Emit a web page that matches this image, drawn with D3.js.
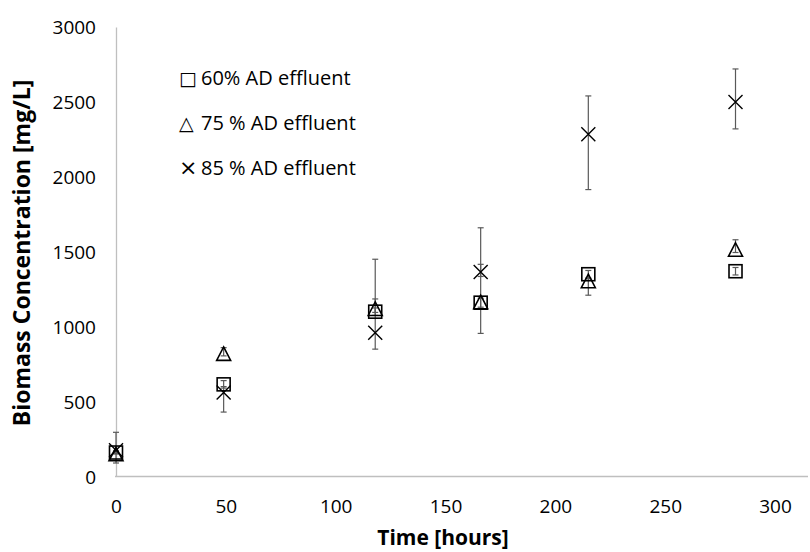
<!DOCTYPE html>
<html>
<head>
<meta charset="utf-8">
<script src="https://cdn.jsdelivr.net/npm/d3@7"></script>
<style>
  body { margin: 0; background: #fff; }
  text { font-family: "Open Sans", "DejaVu Sans", sans-serif; }
</style>
</head>
<body>
<script>
// sampling times [hours]
const times = [0, 49, 118, 166, 215, 282];

// 60% AD effluent
const sq = [160, 615, 1100, 1160, 1350, 1370];
const sqPlus = [10, 25, 25, 256, 25, 25];
const sqMinus = [10, 25, 25, 205, 25, 25];

// 75 % AD effluent
const tri = [145, 815, 1115, 1160, 1300, 1510];
const triPlus = [10, 45, 70, 30, 20, 70];
const triMinus = [55, 10, 20, 30, 90, 15];

// 85 % AD effluent
const crs = [175, 560, 960, 1365, 2285, 2500];
const crsPlus = [120, 40, 490, 295, 255, 220];
const crsMinus = [20, 130, 110, 30, 370, 180];

const xTicks = [0, 50, 100, 150, 200, 250, 300];
const yTicks = [0, 500, 1000, 1500, 2000, 2500, 3000];
const legendSymbols = ["\u25A1", "\u25B3", "\u00D7"];
const legendLabels = ["60% AD effluent", "75 % AD effluent", "85 % AD effluent"];

var w = 810, h = 552;
const svg = d3.select("body").append("svg")
  .attr("width", w).attr("height", h);

const xScale = d3.scaleLinear().domain([0, 315]).range([116, 808]);
const yScale = d3.scaleLinear().domain([0, 3000]).range([476.5, 27]);

// axes
var xAxis = svg.append("g")
  .attr("transform", "translate(0," + yScale(0) + ")")
  .call(d3.axisBottom(xScale).tickValues(xTicks).tickSize(0).tickPadding(23));
var yAxis = svg.append("g")
  .attr("transform", "translate(" + xScale(0) + ",0)")
  .call(d3.axisLeft(yScale).tickValues(yTicks).tickFormat(d3.format("d")).tickSize(0).tickPadding(20));

[xAxis, yAxis].forEach(function(a) {
  a.select(".domain").attr("stroke", "#bfbfbf").attr("stroke-width", 1.3);
  a.selectAll("text").attr("fill", "#000").style("font-size", "19px");
});
yAxis.selectAll("text").attr("dy", "0.35em");
xAxis.select(".domain").attr("d", "M" + (xScale(0) - 1) + ",0H808");

// titles
svg.append("text")
  .attr("x", 443).attr("y", 545)
  .attr("text-anchor", "middle")
  .style("font-size", "21px").style("font-weight", "bold")
  .text("Time [hours]");
svg.append("text")
  .attr("transform", "translate(30,253) rotate(-90)")
  .attr("text-anchor", "middle")
  .style("font-size", "23px").style("font-weight", "bold")
  .text("Biomass Concentration [mg/L]");

// error bars
function errorBars(vals, plus, minus) {
  const g = svg.append("g").attr("stroke", "#595959").attr("stroke-width", 1.2).attr("fill", "none");
  vals.forEach(function(v, i) {
    const x = xScale(times[i]);
    const y1 = yScale(v + plus[i]), y0 = yScale(v - minus[i]);
    g.append("line").attr("x1", x).attr("x2", x).attr("y1", y1).attr("y2", y0);
    g.append("line").attr("x1", x - 3).attr("x2", x + 3).attr("y1", y1).attr("y2", y1);
    g.append("line").attr("x1", x - 3).attr("x2", x + 3).attr("y1", y0).attr("y2", y0);
  });
}
errorBars(sq, sqPlus, sqMinus);
errorBars(tri, triPlus, triMinus);
errorBars(crs, crsPlus, crsMinus);

// markers
svg.append("g").selectAll("rect")
  .data(sq).enter().append("rect")
  .attr("x", (d, i) => xScale(times[i]) - 6.5)
  .attr("y", (d) => yScale(d) - 6.5)
  .attr("width", 13).attr("height", 13)
  .attr("fill", "none").attr("stroke", "#000").attr("stroke-width", 1.6);

svg.append("g").selectAll("path")
  .data(tri).enter().append("path")
  .attr("d", (d, i) => {
    const x = xScale(times[i]), y = yScale(d);
    return "M" + x + "," + (y - 7.5) + "L" + (x + 7) + "," + (y + 6) + "L" + (x - 7) + "," + (y + 6) + "Z";
  })
  .attr("fill", "none").attr("stroke", "#000").attr("stroke-width", 1.6);

svg.append("g").selectAll("path")
  .data(crs).enter().append("path")
  .attr("d", (d, i) => {
    const x = xScale(times[i]), y = yScale(d), r = 7;
    return "M" + (x - r) + "," + (y - r) + "L" + (x + r) + "," + (y + r) +
           "M" + (x + r) + "," + (y - r) + "L" + (x - r) + "," + (y + r);
  })
  .attr("fill", "none").attr("stroke", "#000").attr("stroke-width", 1.4);

// legend
const leg = svg.append("g").selectAll("text")
  .data(legendLabels).enter().append("text")
  .attr("x", 179)
  .attr("y", (d, i) => 85 + i * 45)
  .attr("fill", "#000")
  .style("font-size", "20px");
leg.append("tspan")
  .attr("font-family", "DejaVu Sans")
  .style("font-size", (d, i) => i == 2 ? "22px" : "19px")
  .text((d, i) => legendSymbols[i]);
leg.append("tspan")
  .attr("x", 201)
  .text((d) => d);
</script>
</body>
</html>
